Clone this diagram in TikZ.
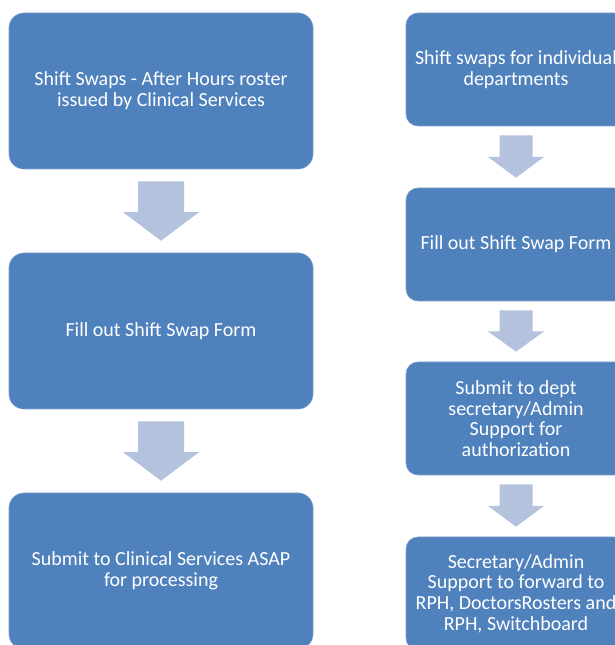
\documentclass[tikz,border=0pt]{standalone}
\usepackage{fontspec}
\setmainfont{Carlito}
\usetikzlibrary{calc}
\definecolor{boxblue}{HTML}{4F81BD}
\definecolor{arrowblue}{HTML}{B4C2DE}
\tikzset{
  stepbox/.style={draw=boxblue!75!white, line width=.6pt, fill=boxblue, text=white,
    align=center, inner sep=0pt, font=\fontsize{20}{20.7}\selectfont},
  leftbox/.style={stepbox, rounded corners=15pt, minimum width=304pt, minimum height=156pt},
  rightbox/.style={stepbox, rounded corners=12pt, minimum width=220pt, minimum height=113pt},
  flowarrow/.style={fill=arrowblue}
}
% block arrow: top point, tip point, shaft half width, head half width, head start
\newcommand{\blockarrow}[5]{%
  \coordinate (#1h) at ($(#1)!#5!(#2)$);
  \fill[flowarrow] ($(#1)+(-#3,0)$) -- ($(#1)+(#3,0)$) -- ($(#1h)+(#3,0)$)
    -- ($(#1h)+(#4,0)$) -- (#2) -- ($(#1h)+(-#4,0)$) -- ($(#1h)+(-#3,0)$) -- cycle;}

\begin{document}
\begin{tikzpicture}[x=1pt, y=1pt]
      \clip (0,0) rectangle (615,645);
      % left column
      \node (L1) at (161,554) [leftbox] {Shift Swaps - After Hours roster\\issued by Clinical Services};
      \node (L2) at (161,314) [leftbox] {Fill out Shift Swap Form};
      \node (L3) at (161,74)  [leftbox] {Submit to Clinical Services ASAP\\for processing};
      % right column
      \node (R1) at (516,575.5) [rightbox] {Shift swaps for individual\\departments};
      \node (R2) at (516,400.5) [rightbox] {Fill out Shift Swap Form};
      \node (R3) at (516,226.5) [rightbox] {Submit to dept\\secretary/Admin\\Support for\\authorization};
      \node (R4) at (516,51.5)  [rightbox] {Secretary/Admin\\Support to forward to\\RPH, DoctorsRosters and\\RPH, Switchboard};
      % arrows
      \coordinate (la1) at ($(L1.south)+(0,-12)$);
      \coordinate (lb1) at ($(L2.north)+(0,12)$);
      \coordinate (la2) at ($(L2.south)+(0,-12)$);
      \coordinate (lb2) at ($(L3.north)+(0,12)$);
      \blockarrow{la1}{lb1}{23}{38}{.52}
      \blockarrow{la2}{lb2}{23}{38}{.52}
      \coordinate (ra1) at ($(R1.south)+(0,-9)$);
      \coordinate (rb1) at ($(R2.north)+(0,10)$);
      \coordinate (ra2) at ($(R2.south)+(0,-9)$);
      \coordinate (rb2) at ($(R3.north)+(0,10)$);
      \coordinate (ra3) at ($(R3.south)+(0,-9)$);
      \coordinate (rb3) at ($(R4.north)+(0,10)$);
      \blockarrow{ra1}{rb1}{16.5}{28}{.51}
      \blockarrow{ra2}{rb2}{16.5}{28}{.51}
      \blockarrow{ra3}{rb3}{16.5}{28}{.51}
    \end{tikzpicture}
\end{document}
